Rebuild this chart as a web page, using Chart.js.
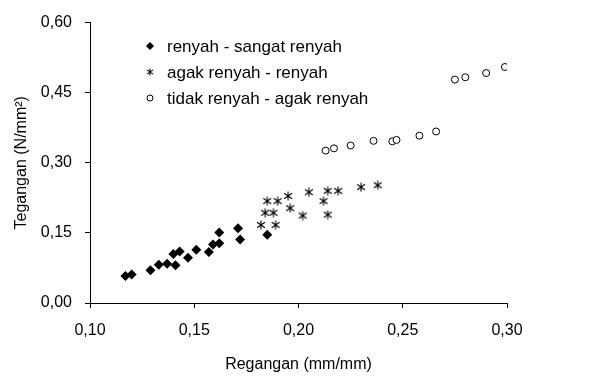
<!DOCTYPE html>
<html>
<head>
<meta charset="utf-8">
<script src="https://cdn.jsdelivr.net/npm/chart.js@4/dist/chart.umd.min.js"></script>
<style>
  html, body { margin: 0; background: #fff; }
  #wrap { width: 592px; height: 380px; }
</style>
</head>
<body>
<div id="wrap"><canvas id="grafik"></canvas></div>
<script>
const namaSeri = ['renyah - sangat renyah', 'agak renyah - renyah', 'tidak renyah - agak renyah'];

// regangan (mm/mm) dan tegangan (N/mm²) tiap kelompok
const renyahX = [0.117, 0.120, 0.129, 0.133, 0.137, 0.140, 0.141, 0.143, 0.147, 0.151, 0.157, 0.159, 0.162, 0.162, 0.171, 0.172, 0.185];
const renyahY = [0.058, 0.061, 0.070, 0.082, 0.084, 0.105, 0.081, 0.110, 0.097, 0.114, 0.109, 0.125, 0.128, 0.151, 0.160, 0.136, 0.146];

const agakX = [0.182, 0.184, 0.185, 0.188, 0.189, 0.190, 0.195, 0.196, 0.202, 0.205, 0.212, 0.214, 0.214, 0.219, 0.230, 0.238];
const agakY = [0.167, 0.193, 0.218, 0.193, 0.167, 0.218, 0.229, 0.203, 0.187, 0.237, 0.218, 0.240, 0.189, 0.240, 0.248, 0.252];

const tidakX = [0.213, 0.217, 0.225, 0.236, 0.245, 0.247, 0.258, 0.266, 0.275, 0.280, 0.290, 0.299];
const tidakY = [0.326, 0.331, 0.337, 0.347, 0.346, 0.349, 0.358, 0.367, 0.478, 0.483, 0.492, 0.505];

const xTicks = [0.10, 0.15, 0.20, 0.25, 0.30];
const yTicks = [0.00, 0.15, 0.30, 0.45, 0.60];

const huruf = "'Liberation Sans', Arial, sans-serif";

function titik(xs, ys) {
  return xs.map((x, i) => ({ x: x, y: ys[i] }));
}

// tanda bintang enam lengan
function bintang(size) {
  const c = document.createElement('canvas');
  c.width = c.height = size;
  const g = c.getContext('2d');
  const m = size / 2, r = size / 2 - 0.5;
  g.strokeStyle = '#000';
  g.lineWidth = 1.1;
  g.beginPath();
  g.moveTo(m, m - r); g.lineTo(m, m + r);
  g.moveTo(m - r * 0.87, m - r * 0.6); g.lineTo(m + r * 0.87, m + r * 0.6);
  g.moveTo(m - r * 0.87, m + r * 0.6); g.lineTo(m + r * 0.87, m - r * 0.6);
  g.stroke();
  return c;
}

const koma = v => Number(v).toFixed(2).replace('.', ',');

// legenda di dalam area grafik
const legendaDalam = {
  id: 'legendaDalam',
  afterDraw(chart) {
    const ctx = chart.ctx;
    const x0 = 150, tx = 167, ys = [46, 72, 98];
    ctx.save();
    ctx.font = '17px ' + huruf;
    ctx.fillStyle = '#000';
    ctx.textBaseline = 'middle';
    // belah ketupat
    ctx.beginPath();
    ctx.moveTo(x0, ys[0] - 4); ctx.lineTo(x0 + 4, ys[0]);
    ctx.lineTo(x0, ys[0] + 4); ctx.lineTo(x0 - 4, ys[0]);
    ctx.closePath(); ctx.fill();
    // bintang
    const b = bintang(8);
    ctx.drawImage(b, x0 - 4, ys[1] - 4);
    // lingkaran
    ctx.beginPath();
    ctx.arc(x0, ys[2], 3, 0, Math.PI * 2);
    ctx.lineWidth = 1; ctx.strokeStyle = '#000'; ctx.stroke();
    namaSeri.forEach((t, i) => ctx.fillText(t, tx, ys[i] + 1));
    ctx.restore();
  }
};

new Chart(document.getElementById('grafik'), {
  type: 'scatter',
  data: {
    datasets: [
      {
        label: namaSeri[0],
        data: titik(renyahX, renyahY),
        pointStyle: 'rectRot',
        pointRadius: 5,
        backgroundColor: '#000',
        borderColor: '#000',
        borderWidth: 0
      },
      {
        label: namaSeri[1],
        data: titik(agakX, agakY),
        pointStyle: bintang(10)
      },
      {
        label: namaSeri[2],
        data: titik(tidakX, tidakY),
        pointStyle: 'circle',
        pointRadius: 3.5,
        backgroundColor: '#fff',
        borderColor: '#000',
        borderWidth: 1
      }
    ]
  },
  options: {
    responsive: true,
    maintainAspectRatio: false,
    animation: false,
    layout: { padding: { top: 20, right: 85, left: 0, bottom: 0 } },
    plugins: {
      legend: { display: false },
      tooltip: { enabled: false }
    },
    scales: {
      x: {
        type: 'linear',
        min: xTicks[0],
        max: xTicks[xTicks.length - 1],
        afterBuildTicks: s => { s.ticks = xTicks.map(v => ({ value: v })); },
        afterFit: s => { s.height = 77; },
        ticks: { callback: koma, color: '#000', font: { family: huruf, size: 16 }, padding: 13, maxRotation: 0 },
        grid: { drawOnChartArea: false, drawTicks: true, tickLength: 5, color: '#000' },
        border: { color: '#000', width: 1 },
        title: { display: true, text: 'Regangan (mm/mm)', color: '#000', font: { family: huruf, size: 16 }, padding: { top: 4, bottom: 6 } }
      },
      y: {
        type: 'linear',
        min: yTicks[0],
        max: yTicks[yTicks.length - 1],
        afterBuildTicks: s => { s.ticks = yTicks.map(v => ({ value: v })); },
        afterFit: s => { s.width = 90; },
        ticks: { callback: koma, color: '#000', font: { family: huruf, size: 16 }, padding: 13 },
        grid: { drawOnChartArea: false, drawTicks: true, tickLength: 5, color: '#000' },
        border: { color: '#000', width: 1 },
        title: { display: true, text: 'Tegangan (N/mm²)', color: '#000', font: { family: huruf, size: 16 }, padding: { top: 12, bottom: 4 } }
      }
    }
  },
  plugins: [legendaDalam]
});
</script>
</body>
</html>
